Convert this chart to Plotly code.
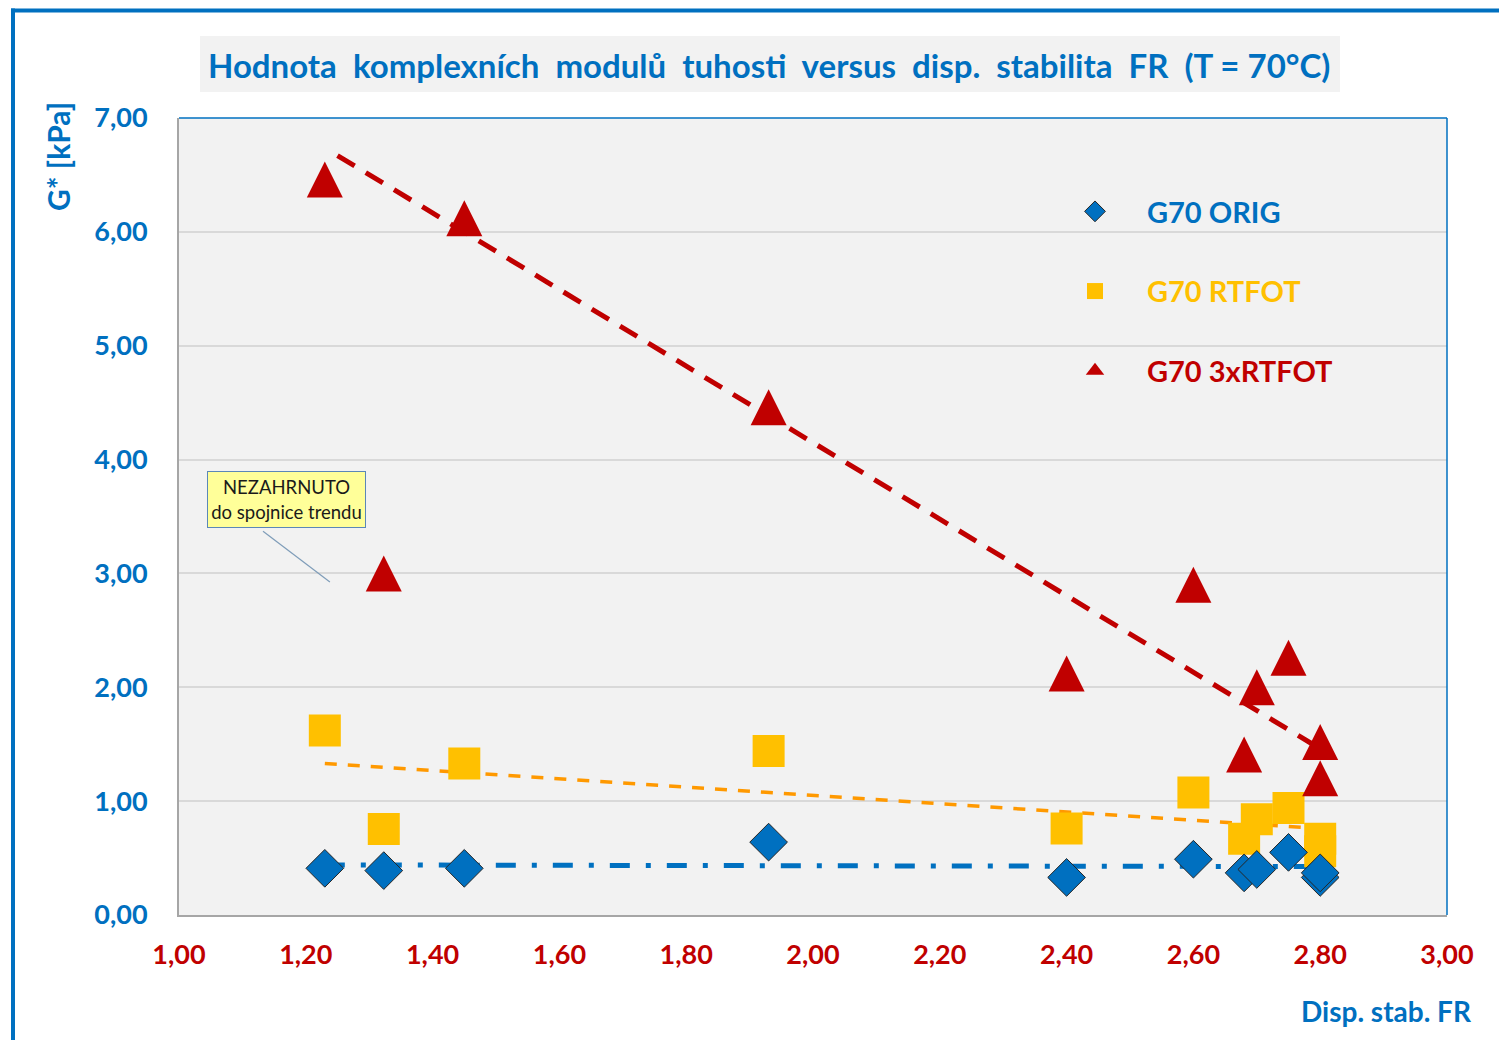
import plotly.graph_objects as go

# ---- data ----
fr = [1.23, 1.323, 1.45, 1.93, 2.40, 2.60, 2.68, 2.70, 2.75, 2.80, 2.80]
g70_orig = [0.41, 0.39, 0.41, 0.64, 0.33, 0.49, 0.37, 0.40, 0.55, 0.33, 0.37]
g70_rtfot = [1.62, 0.755, 1.33, 1.44, 0.76, 1.075, 0.67, 0.84, 0.94, 0.67, 0.56]
g70_3x = [6.46, 3.00, 6.12, 4.46, 2.12, 2.90, 1.41, 2.00, 2.26, 1.52, 1.20]

# trendlines (end points)
trend_orig_x = [1.23, 2.80]
trend_orig_y = [0.44, 0.425]
trend_rtfot_x = [1.23, 2.80]
trend_rtfot_y = [1.33, 0.76]
trend_3x_x = [1.25, 2.80]
trend_3x_y = [6.67, 1.46]

x_ticks = [1.0, 1.2, 1.4, 1.6, 1.8, 2.0, 2.2, 2.4, 2.6, 2.8, 3.0]
y_ticks = [0, 1, 2, 3, 4, 5, 6, 7]

# callout
note_text = "NEZAHRNUTO<br>do spojnice trendu"
note_pos = (1.1696, 3.648)
note_line = ((1.1325, 3.371), (1.238, 2.924))

BLUE = "#0070C0"
YEL = "#FFC000"
RED = "#C00000"
ORANGE = "#FF9900"
FONT = "Lato"

# page geometry (the html body adds an 8px margin)
OFF = 8
PAGE_W, PAGE_H = 1507, 1040
W, H = PAGE_W - OFF, PAGE_H - OFF
PX0, PX1 = 179, 1447      # plot area in page pixels
PY0, PY1 = 118, 915
L = PX0 - OFF
T = PY0 - OFF
pw = PX1 - PX0
ph = PY1 - PY0
R = W - L - pw
B = H - T - ph


def fx(px):
    return (px - PX0) / pw


def fy(py):
    return (PY1 - py) / ph


ymax = 7.0
tri_size = 36
tri_shift = (tri_size / 2) / (ph / ymax)

fig = go.Figure()

# trendlines
fig.add_trace(go.Scatter(x=trend_orig_x, y=trend_orig_y, mode="lines", showlegend=False,
                         line=dict(color=BLUE, width=5, dash="20px,16px,5px,16px"), hoverinfo="skip"))
fig.add_trace(go.Scatter(x=trend_rtfot_x, y=trend_rtfot_y, mode="lines", showlegend=False,
                         line=dict(color=ORANGE, width=3.5, dash="12px,11px"), hoverinfo="skip"))

fig.add_trace(go.Scatter(x=fr, y=g70_3x, mode="markers", yaxis="y2", showlegend=False,
                         marker=dict(symbol="arrow-up", size=tri_size, color=RED, line=dict(width=0))))
fig.add_trace(go.Scatter(x=trend_3x_x, y=trend_3x_y, mode="lines", showlegend=False,
                         line=dict(color=RED, width=5, dash="20px,13px"), hoverinfo="skip"))

fig.add_trace(go.Scatter(x=fr, y=g70_rtfot, mode="markers", showlegend=False,
                         marker=dict(symbol="square", size=32, color=YEL, line=dict(width=0))))
fig.add_trace(go.Scatter(x=fr, y=g70_orig, mode="markers", showlegend=False,
                         marker=dict(symbol="diamond", size=29, color=BLUE, line=dict(color="#262626", width=1))))

# legend entries
fig.add_trace(go.Scatter(x=[None], y=[None], mode="markers", legendgroup="a",
                         name=f"<span style='color:{BLUE}'>G70 ORIG</span>",
                         marker=dict(symbol="diamond", size=16, color=BLUE, line=dict(color="#262626", width=1))))
fig.add_trace(go.Scatter(x=[None], y=[None], mode="markers", legendgroup="b",
                         name=f"<span style='color:{YEL}'>G70 RTFOT</span>",
                         marker=dict(symbol="square", size=21, color=YEL)))
fig.add_trace(go.Scatter(x=[None], y=[None], mode="markers", legendgroup="c",
                         name=f"<span style='color:{RED}'>G70 3xRTFOT</span>",
                         marker=dict(symbol="triangle-up", size=20, color=RED)))

shapes = [
    # title box
    dict(type="rect", xref="paper", yref="paper",
         x0=fx(200), x1=fx(1340), y0=fy(92), y1=fy(36),
         fillcolor="#F2F2F2", line=dict(width=0), layer="below"),
    # plot area top / right border
    dict(type="line", xref="x domain", yref="y domain", x0=0, x1=1, y0=1, y1=1,
         line=dict(color=BLUE, width=1.5)),
    dict(type="line", xref="x domain", yref="y domain", x0=1, x1=1, y0=0, y1=1,
         line=dict(color=BLUE, width=1.5)),
    # outer chart border (left and top)
    dict(type="line", xref="paper", yref="paper",
         x0=fx(13), x1=fx(13), y0=fy(8.5), y1=fy(1060), line=dict(color=BLUE, width=4)),
    dict(type="line", xref="paper", yref="paper",
         x0=fx(11), x1=fx(1530), y0=fy(10.5), y1=fy(10.5), line=dict(color=BLUE, width=4)),
    # callout line
    dict(type="line", xref="x", yref="y", x0=note_line[0][0], y0=note_line[0][1],
         x1=note_line[1][0], y1=note_line[1][1], line=dict(color="#7F9DB9", width=1.2)),
]

annotations = [
    dict(text="Hodnota  komplexních  modulů  tuhosti  versus  disp.  stabilita  FR  (T = 70°C)",
         xref="paper", yref="paper", x=fx(768.5), y=fy(65), xanchor="center", yanchor="middle",
         showarrow=False, font=dict(family=FONT, size=33, color=BLUE, weight="bold")),
    dict(text="G* [kPa]", xref="paper", yref="paper", x=fx(58), y=fy(157),
         xanchor="center", yanchor="middle",
         textangle=-90, showarrow=False, font=dict(family=FONT, size=30, color=BLUE, weight="bold")),
    dict(text="Disp. stab. FR", xref="paper", yref="paper", x=fx(1474), y=fy(1011),
         xanchor="right", yanchor="middle", showarrow=False,
         font=dict(family=FONT, size=28, color=BLUE, weight="bold")),
    dict(text=note_text, xref="x", yref="y", x=note_pos[0], y=note_pos[1], showarrow=False,
         xanchor="center", yanchor="middle",
         bgcolor="#FFFF99", bordercolor="#5B87B8", borderwidth=1, borderpad=0,
         width=157, height=55, font=dict(family=FONT, size=18.5, color="#1a1a1a")),
]

fig.update_layout(
    width=W, height=H,
    margin=dict(l=L, r=R, t=T, b=B, pad=0),
    paper_bgcolor="white", plot_bgcolor="#F2F2F2",
    separators=", ",
    shapes=shapes, annotations=annotations,
    showlegend=True,
    legend=dict(x=fx(1043), y=fy(186), xanchor="left", yanchor="top",
                bgcolor="rgba(0,0,0,0)", itemwidth=94, tracegroupgap=39, traceorder="grouped",
                font=dict(family=FONT, size=29, weight="bold"), itemclick=False),
    xaxis=dict(range=[1, 3], tickvals=x_ticks, tickformat=".2f", showgrid=False, zeroline=False,
               showline=True, linecolor="#A6A6A6", linewidth=2, ticks="",
               ticklabelstandoff=15,
               tickfont=dict(family=FONT, size=27, color=RED, weight="bold")),
    yaxis=dict(range=[0, ymax], tickvals=y_ticks, tickformat=".2f", showgrid=True,
               gridcolor="#D9D9D9", gridwidth=1.5, zeroline=False,
               showline=True, linecolor="#A6A6A6", linewidth=2, ticks="",
               ticklabelstandoff=24,
               tickfont=dict(family=FONT, size=27, color=BLUE, weight="bold")),
    yaxis2=dict(range=[-tri_shift, ymax - tri_shift], overlaying="y", visible=False,
                showgrid=False, zeroline=False),
)

fig.write_html("out.html")
